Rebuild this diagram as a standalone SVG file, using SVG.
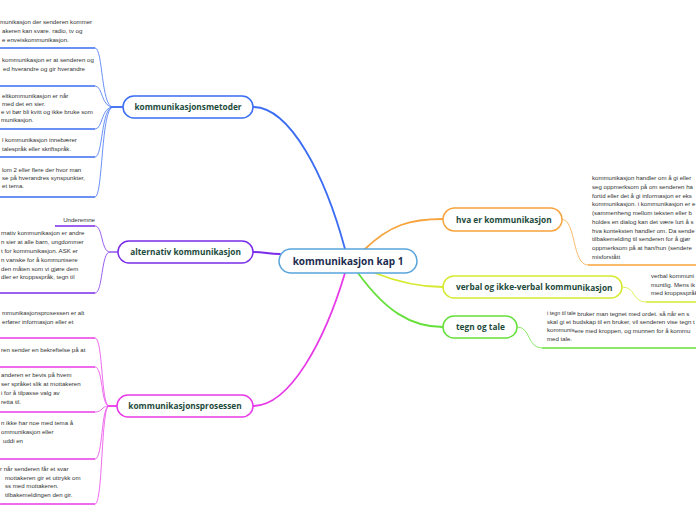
<svg xmlns="http://www.w3.org/2000/svg" width="696" height="520" viewBox="0 0 696 520">
<style>
.lt{font-family:"Liberation Sans",Arial,sans-serif;font-size:6.1px;fill:#333}
.nt{font-family:"Open Sans","Noto Sans",sans-serif;font-weight:700;font-size:8.3px;fill:#1d4b3b}
.ct{font-family:"Open Sans","Noto Sans",sans-serif;font-weight:700;font-size:10px;fill:#1b2d4f}
.node{fill:#fff;stroke-width:1.5}
.c{fill:none;stroke-width:1.8;stroke-linecap:round}
.l{fill:none;stroke-width:1;stroke-opacity:0.75}
.u{fill:none;stroke-width:1.6}
.blue{stroke:#3a6cf4}.purple{stroke:#7a2bea}.pink{stroke:#e83ae8}
.orange{stroke:#f7a33b}.lime{stroke:#d5ea2e}.green{stroke:#66e03a}
</style>
<g id="connectors">
<path class="c blue" d="M253 107C290 107 325 175 345 249"/>
<path class="c purple" d="M253 252C265 252 268 254 280 254"/>
<path class="c pink" d="M253 406C290 406 325 340 345 273"/>
<path class="c orange" d="M365 249C390 225 410 219 443 219"/>
<path class="c lime" d="M375 273C400 283 420 287 443 287"/>
<path class="c green" d="M358 273C385 310 410 327 443 327"/>
<path class="l blue" d="M95 48C103 48 101 107 113 107H123"/>
<path class="l blue" d="M95 86C103 86 101 107 113 107H123"/>
<path class="l blue" d="M95 129C103 129 101 107 113 107H123"/>
<path class="l blue" d="M95 157C103 157 101 107 113 107H123"/>
<path class="l blue" d="M95 197C103 197 101 107 113 107H123"/>
<path class="l purple" d="M95 226C103 226 101 252 110 252H118"/>
<path class="l purple" d="M95 293C103 293 101 252 110 252H118"/>
<path class="l pink" d="M95 338C103 338 101 406 109 406H117"/>
<path class="l pink" d="M95 367C103 367 101 406 109 406H117"/>
<path class="l pink" d="M95 412C103 412 101 406 109 406H117"/>
<path class="l pink" d="M95 459C103 459 101 406 109 406H117"/>
<path class="l pink" d="M95 504C103 504 101 406 109 406H117"/>
<path class="l orange" d="M562 219.5C576 219.5 572 265 588 265"/>
<path class="l lime" d="M622 287C636 287 632 302 646 302"/>
<path class="l green" d="M517 327C531 327 527 348 542 348"/>
</g>
<g id="center">
<rect class="node" x="279" y="249" width="138" height="24" rx="12" stroke="#58a4dc"/>
<text class="ct" x="348" y="264.5" text-anchor="middle">kommunikasjon kap 1</text>
</g>
<g id="kommunikasjonsmetoder">
<rect class="node blue" x="123" y="96" width="130" height="22" rx="11"/>
<text class="nt" x="188" y="110" text-anchor="middle">kommunikasjonsmetoder</text>
</g>
<g id="metode-a">
<path class="u blue" d="M0 48H95"/>
<text class="lt" x="0" y="24">munikasjon der senderen kommer</text>
<text class="lt" x="2" y="33">akeren kan svare. radio, tv og</text>
<text class="lt" x="2" y="42">e enveiskommunikasjon.</text>
</g>
<g id="metode-b">
<path class="u blue" d="M0 86H95"/>
<text class="lt" x="2" y="62">kommunikasjon er at senderen og</text>
<text class="lt" x="3" y="70.5">ed hverandre og gir hverandre</text>
</g>
<g id="metode-c">
<path class="u blue" d="M0 129H95"/>
<text class="lt" x="2" y="98">eltkommunikasjon er når</text>
<text class="lt" x="2" y="106">med det en sier.</text>
<text class="lt" x="1" y="114">e vi bør bli kvitt og ikke bruke som</text>
<text class="lt" x="1" y="122">munikasjon.</text>
</g>
<g id="metode-d">
<path class="u blue" d="M0 157H95"/>
<text class="lt" x="2" y="142">l kommunikasjon innebærer</text>
<text class="lt" x="2" y="151">talespråk eller skriftspråk.</text>
</g>
<g id="metode-e">
<path class="u blue" d="M0 197H95"/>
<text class="lt" x="2" y="172">lom 2 eller flere der hvor man</text>
<text class="lt" x="2" y="180">se på hverandres synspunkter,</text>
<text class="lt" x="2" y="188">et tema.</text>
</g>
<g id="alternativ">
<rect class="node purple" x="118" y="241" width="135" height="22" rx="11"/>
<text class="nt" x="185.5" y="255" text-anchor="middle">alternativ kommunikasjon</text>
</g>
<g id="underemne">
<path class="u purple" d="M55 226H95"/>
<text class="lt" x="95" y="222" text-anchor="end" fill="#555">Underemne</text>
</g>
<g id="ask">
<path class="u purple" d="M0 293H95"/>
<text class="lt" x="1" y="235">rnativ kommunikasjon er andre</text>
<text class="lt" x="1" y="244">n sier at alle barn, ungdommer</text>
<text class="lt" x="1" y="253">t for kommunikasjon. ASK er</text>
<text class="lt" x="1" y="262">n vanske for å kommunisere</text>
<text class="lt" x="1" y="270.5">den måten som vi gjøre dem</text>
<text class="lt" x="1" y="279">dler er kroppsspråk, tegn til</text>
</g>
<g id="kommunikasjonsprosessen">
<rect class="node pink" x="117" y="395" width="136" height="22" rx="11"/>
<text class="nt" x="185" y="409" text-anchor="middle">kommunikasjonsprosessen</text>
</g>
<g id="prosess-a">
<path class="u pink" d="M0 338H95"/>
<text class="lt" x="2" y="315">mmunikasjonsprosessen er alt</text>
<text class="lt" x="2" y="323.5">erfører informasjon eller et</text>
</g>
<g id="prosess-b">
<path class="u pink" d="M0 367H95"/>
<text class="lt" x="1" y="352">ren sender en bekreftelse på at</text>
</g>
<g id="prosess-c">
<path class="u pink" d="M0 412H95"/>
<text class="lt" x="1" y="377">anderen er bevis på hvem</text>
<text class="lt" x="1" y="386">ser språket slik at mottakeren</text>
<text class="lt" x="1" y="394.5">i for å tilpasse valg av</text>
<text class="lt" x="1" y="404">retta til.</text>
</g>
<g id="prosess-d">
<path class="u pink" d="M0 459H95"/>
<text class="lt" x="1" y="425">n ikke har noe med tema å</text>
<text class="lt" x="1" y="434">ommunikasjon eller</text>
<text class="lt" x="3" y="443">uddi en</text>
</g>
<g id="prosess-e">
<path class="u pink" d="M0 504H95"/>
<text class="lt" x="0" y="471">r når senderen får et svar</text>
<text class="lt" x="5" y="479.5">mottakeren gir et uttrykk om</text>
<text class="lt" x="5" y="488">ss med mottakeren.</text>
<text class="lt" x="5" y="497">tilbakemeldingen den gir.</text>
</g>
<g id="hva-er-kommunikasjon">
<rect class="node orange" x="443" y="208" width="119" height="23" rx="11.5"/>
<text class="nt" x="456" y="222.5">hva er kommunikasjon</text>
</g>
<g id="hva-tekst">
<path class="u orange" d="M588 265H696"/>
<text class="lt" x="592" y="180">kommunikasjon handler om å gi eller</text>
<text class="lt" x="592" y="188.8">seg oppmerksom på om senderen ha</text>
<text class="lt" x="592" y="197.5">fortid eller det å gi informasjon er eks</text>
<text class="lt" x="592" y="206.3">kommunikasjon. i kommunikasjon er e</text>
<text class="lt" x="592" y="215">(sammenheng mellom teksten eller b</text>
<text class="lt" x="592" y="223.8">holdes en dialog kan det være lurt å s</text>
<text class="lt" x="592" y="232.5">hva konteksten handler om. Da sende</text>
<text class="lt" x="592" y="241.3">tilbakemelding til senderen for å gjør</text>
<text class="lt" x="592" y="250">oppmerksom på at han/hun (sendere</text>
<text class="lt" x="592" y="258.8">misforstått</text>
</g>
<g id="verbal">
<rect class="node lime" x="443" y="276" width="179" height="22" rx="11"/>
<text class="nt" x="456" y="290">verbal og ikke-verbal kommun<tspan dy="1.2">ikasjon</tspan></text>
</g>
<g id="verbal-tekst">
<path class="u lime" d="M646 302H696"/>
<text class="lt" x="651" y="278">verbal kommuni</text>
<text class="lt" x="651" y="286.5">muntlig. Mens ik</text>
<text class="lt" x="651" y="295">med kroppsspråk</text>
</g>
<g id="tegn-og-tale">
<rect class="node green" x="443" y="316" width="74" height="22" rx="11"/>
<text class="nt" x="456" y="330">tegn og tale</text>
</g>
<g id="tegn-tekst">
<path class="u green" d="M542 348H696"/>
<text class="lt" x="547" y="314.5"><tspan font-size="5.4">i tegn til tale </tspan><tspan dy="1">bruker man tegnet med ordet. så når en s</tspan></text>
<text class="lt" x="547" y="324">skal gi et budskap til en bruker, vil senderen vise tegn t</text>
<text class="lt" x="547" y="332">kommunis<tspan dy="1.2">ere med kroppen, og munnen for å kommu</tspan></text>
<text class="lt" x="547" y="341">med tale.</text>
</g>
</svg>
